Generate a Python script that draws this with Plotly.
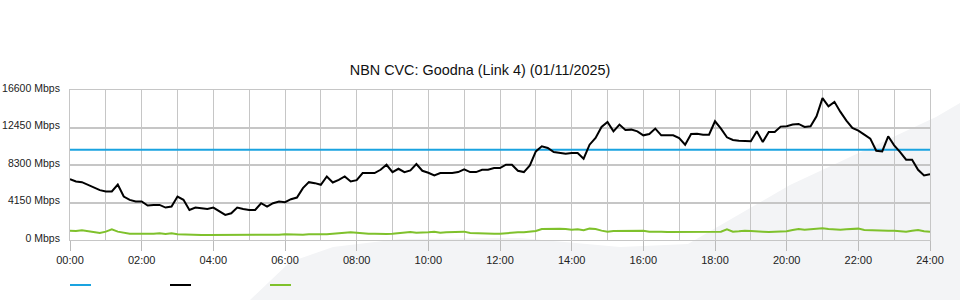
import plotly.graph_objects as go

# ---------------- data ----------------
minutes = list(range(0, 1441, 10))  # sample times (minutes after midnight)

traffic_in = [
    6737, 6477, 6403, 6107, 5737, 5515,   # 00
    5367, 5367, 6144, 4811, 4442, 4256,   # 01
    4256, 3812, 3886, 3886, 3590, 3700,   # 02
    4811, 4442, 3331, 3590, 3516, 3442,   # 03
    3590, 3220, 2776, 2961, 3590, 3442,   # 04
    3331, 3331, 4071, 3701, 4071, 4256,   # 05
    4183, 4516, 4700, 5737, 6403, 6292,   # 06
    6107, 7032, 6366, 6662, 7032, 6477,   # 07
    6625, 7403, 7403, 7403, 7773, 8328,   # 08
    7514, 7884, 7514, 7699, 8402, 7662,   # 09
    7440, 7143, 7403, 7403, 7403, 7514,   # 10
    7810, 7514, 7514, 7773, 7773, 7958,   # 11
    7958, 8328, 8328, 7662, 7514, 8254,   # 12
    9808, 10364, 10179, 9735, 9624, 9549,  # 13
    9624, 9624, 8994, 10549, 11289, 12511,  # 14
    13066, 12029, 12770, 12177, 12214, 12029,  # 15
    11585, 11733, 12325, 11585, 11585, 11585,  # 16
    11289, 10549, 11733, 11770, 11659, 11659,  # 17
    13140, 12325, 11363, 11067, 10993, 10993,  # 18
    10919, 12029, 10845, 11955, 11955, 12548,  # 19
    12600, 12770, 12844, 12511, 12585, 13695,  # 20
    15700, 14800, 15287, 14176, 13214, 12400,  # 21
    12103, 11659, 11215, 9883, 9808, 11474,   # 22
    10475, 9735, 8883, 8883, 7773, 7143,     # 23
    7292,                                     # 24
]

traffic_out = [
    1036, 999, 1073, 962, 888, 777,
    925, 1184, 925, 777, 703, 703,
    666, 703, 703, 740, 666, 740,
    629, 592, 555, 555, 555, 555,
    555, 518, 518, 518, 555, 555,
    555, 555, 592, 555, 555, 592,
    629, 592, 592, 592, 629, 666,
    629, 629, 703, 703, 777, 851,
    814, 740, 703, 703, 666, 666,
    703, 740, 814, 888, 814, 814,
    851, 925, 814, 851, 851, 851,
    925, 777, 740, 740, 703, 703,
    703, 777, 814, 851, 851, 888,
    999, 1221, 1258, 1295, 1258, 1221,
    1147, 1184, 1073, 1258, 1221, 1036,
    925, 999, 999, 962, 999, 1036,
    1036, 925, 962, 925, 888, 888,
    925, 925, 925, 962, 925, 925,
    925, 925, 1184, 925, 962, 1036,
    999, 925, 925, 888, 925, 925,
    962, 1110, 1221, 1147, 1184, 1221,
    1295, 1221, 1147, 1147, 1184, 1221,
    1258, 1110, 1073, 1036, 1036, 1036,
    1036, 962, 925, 1036, 1110, 962,
    925,
]

capacity_value = 10000
capacity = [capacity_value] * len(minutes)

y_ticks = [0, 4150, 8300, 12450, 16600]
y_tick_labels = [f"{v} Mbps" for v in y_ticks]
x_ticks = list(range(0, 25, 2))
x_tick_labels = [f"{h:02d}:00" for h in x_ticks]

series_colors = ["#1aa3e0", "#000000", "#7fc12c"]

# ---------------- figure ----------------
hours = [m / 60 for m in minutes]
FONT = "Liberation Sans, Arial, sans-serif"

fig = go.Figure()
fig.add_trace(go.Scatter(x=hours, y=capacity, mode="lines",
                         line=dict(color=series_colors[0], width=2), name=""))
fig.add_trace(go.Scatter(x=hours, y=traffic_in, mode="lines",
                         line=dict(color=series_colors[1], width=2), name=""))
fig.add_trace(go.Scatter(x=hours, y=traffic_out, mode="lines",
                         line=dict(color=series_colors[2], width=2), name=""))

L, R, T, B, W, H = 70, 30, 90, 60, 960, 300
pw, ph = W - L - R, H - T - B


def px(x, y):
    return (x - L) / pw, (H - B - y) / ph


# background watermark swoosh (decorative)
pts = [(250, 300), (290, 262), (333, 247), (400, 239), (520, 238),
       (620, 247), (688, 244), (790, 185), (936, 117), (965, 100), (965, 305)]
path = ""
for i, (a, b) in enumerate(pts):
    xp, yp = px(a, b)
    path += ("M" if i == 0 else "L") + f"{xp:.4f},{yp:.4f} "
path += "Z"

shapes = [dict(type="path", path=path, xref="paper", yref="paper",
               fillcolor="#f3f4f6", line=dict(width=0), layer="below")]

# legend swatches (no text in the reference)
for i, c in enumerate(series_colors):
    x0, y0 = px(70 + 100 * i, 285)
    x1, _ = px(91 + 100 * i, 285)
    shapes.append(dict(type="line", xref="paper", yref="paper",
                       x0=x0, x1=x1, y0=y0, y1=y0,
                       line=dict(color=c, width=2)))

fig.update_layout(
    width=W, height=H,
    margin=dict(l=L, r=R, t=T, b=B, autoexpand=False),
    paper_bgcolor="white",
    plot_bgcolor="rgba(0,0,0,0)",
    showlegend=False,
    font=dict(family=FONT, size=11, color="#222"),
    title=dict(text="NBN CVC: Goodna (Link 4) (01/11/2025)",
               x=0.5, xanchor="center", xref="container",
               y=1 - 70 / H, yanchor="middle", yref="container",
               font=dict(family=FONT, size=14.4, color="#111")),
    shapes=shapes,
)

fig.update_xaxes(
    range=[0, 24], tickmode="array", tickvals=x_ticks, ticktext=x_tick_labels,
    showgrid=True, gridcolor="#c6c6c6", gridwidth=1,
    minor=dict(tickmode="array", tickvals=list(range(25)),
               showgrid=True, gridcolor="#c6c6c6", gridwidth=1, ticks=""),
    ticks="outside", ticklen=10, tickcolor="#bbbbbb",
    showline=True, linecolor="#c6c6c6", linewidth=1, mirror=True,
    zeroline=False, tickfont=dict(size=11, color="#222"), automargin=False,
)
fig.update_yaxes(
    range=[0, 16600], tickmode="array", tickvals=y_ticks, ticktext=y_tick_labels,
    showgrid=True, gridcolor="#c6c6c6", gridwidth=2,
    ticks="outside", ticklen=7, tickcolor="rgba(0,0,0,0)",
    ticklabelshift=-2,
    showline=True, linecolor="#c6c6c6", linewidth=1, mirror=True,
    zeroline=False, tickfont=dict(size=10.5, color="#222"), automargin=False,
)

fig.write_html("out.html")
